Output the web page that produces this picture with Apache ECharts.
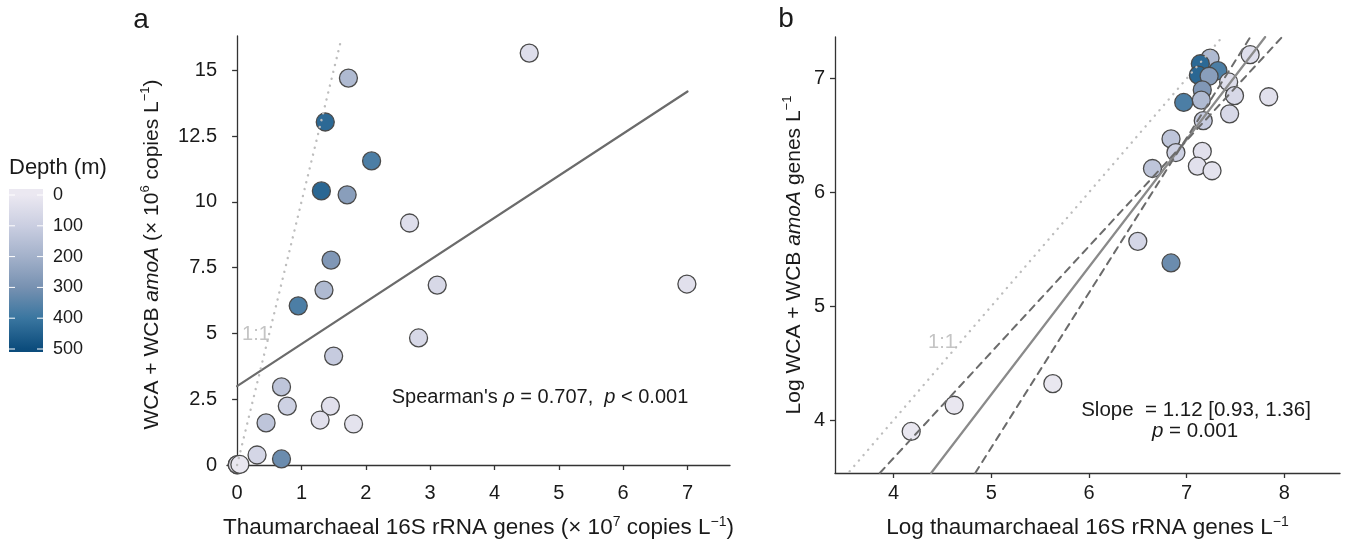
<!DOCTYPE html>
<html><head><meta charset="utf-8">
<script src="https://cdn.jsdelivr.net/npm/echarts@6/dist/echarts.min.js"></script>
<style>html,body{margin:0;padding:0;background:#fff}#c{width:1345px;height:545px}</style>
</head><body><div id="c"></div>
<script>
const FONT = '"Liberation Sans", Arial, Helvetica, sans-serif';

// Panel a: linear values (x: ×10^7 copies/L, y: ×10^6 copies/L)
const ampThaumX = [4.54,1.73,1.37,2.09,1.31,1.71,2.68,1.46,1.35,3.11,0.95,6.99,2.82,1.50,0.69,0.78,1.45,1.29,1.81,0.45,0.31,0.69,0.0015,0.004,0.043];
const ampAmoaY  = [15.66,14.71,13.04,11.56,10.42,10.27,9.20,7.79,6.65,6.84,6.05,6.88,4.83,4.14,2.97,2.24,2.24,1.71,1.56,1.60,0.38,0.23,0.008,0.013,0.021];
// Panel b: log10 values
const logThaumX = [7.65,7.24,7.14,7.32,7.12,7.23,7.43,7.16,7.15,7.49,6.97,7.84,7.44,7.17,6.84,6.89,7.16,7.11,7.26,6.65,6.50,6.84,4.18,4.62,5.63];
const logAmoaY  = [7.21,7.18,7.13,7.07,7.03,7.02,6.97,6.90,6.81,6.85,6.79,6.84,6.69,6.63,6.47,6.35,6.36,6.23,6.19,6.21,5.57,5.38,3.90,4.13,4.32];
// Depth (m) of each sample
const depthM    = [40,170,430,370,435,260,40,280,170,60,370,30,60,110,130,90,30,30,20,130,70,320,5,5,5];

// Fitted / reference lines (endpoints)
const aFitLine  = [[0, 3.0], [7, 14.2]];
const aOneLine  = [[0, 0], [1.61, 16.1]];
const bFitLine  = [[4.384, 3.535], [7.804, 7.365]];
const bLoCI     = [[3.859, 3.535], [7.977, 7.365]];
const bHiCI     = [[4.836, 3.535], [7.652, 7.365]];
const bOneLine  = [[3.55, 3.55], [7.35, 7.35]];

// Tick labels
const aXTicks = [0,1,2,3,4,5,6,7];
const aYTicks = [0,2.5,5,7.5,10,12.5,15];
const bXTicks = [4,5,6,7,8];
const bYTicks = [4,5,6,7];
const depthTicks = [0,100,200,300,400,500];
const depthColors = ['#ebe8f1','#cacee1','#a3b1ca','#7791b1','#3a76a0','#0c4c7c'];

const chart = echarts.init(document.getElementById('c'));

const axisLineStyle = {show:true, lineStyle:{color:'#333', width:1.3}};
const tickStyle = {show:true, length:5, lineStyle:{color:'#333', width:1.3}};
const labStyle = {color:'#1a1a1a', fontSize:20, fontFamily:FONT};
function mkRich(fs){
  return {
    a:{fontSize:fs, fontFamily:FONT, color:'#1a1a1a', lineHeight:26},
    i:{fontSize:fs, fontFamily:FONT, color:'#1a1a1a', fontStyle:'italic', lineHeight:26},
    s:{fontSize:Math.round(fs*0.62), fontFamily:FONT, color:'#1a1a1a', verticalAlign:'top', lineHeight:26, padding:[0,0,10,0]}
  };
}

function xAx(gi, min, max, ticks, name, gap){
  return {type:'value', gridIndex:gi, min, max,
    axisLine:axisLineStyle, axisTick:Object.assign({customValues:ticks}, tickStyle),
    axisLabel:Object.assign({customValues:ticks, margin:10}, labStyle),
    splitLine:{show:false}, name, nameLocation:'middle', nameGap:gap,
    nameTextStyle:{rich:mkRich(22.5)}};
}
function yAx(gi, min, max, ticks, name, gap){
  return {type:'value', gridIndex:gi, min, max,
    axisLine:axisLineStyle, axisTick:Object.assign({customValues:ticks}, tickStyle),
    axisLabel:Object.assign({customValues:ticks, margin:10}, labStyle),
    splitLine:{show:false}, name, nameLocation:'middle', nameGap:gap,
    nameTextStyle:{rich:mkRich(21)}};
}

const pointStyle = {borderColor:'#4a4a4a', borderWidth:1.3, opacity:1};
function lineSeries(xi, data, color, width, type){
  return {type:'line', xAxisIndex:xi, yAxisIndex:xi, data, symbol:'none', silent:true, z:4,
    clip:true, lineStyle:{color, width, type, cap:'round'}};
}

const legendGraphics = [];
const barTop = 189, barH = 163, y0 = 195, perUnit = 154/500;
legendGraphics.push({type:'text', left:9, top:157, style:{text:'Depth (m)', font:'22px '+FONT, fill:'#1a1a1a'}});
legendGraphics.push({type:'rect', shape:{x:9, y:barTop, width:34, height:barH},
  style:{fill:{type:'linear', x:0, y:0, x2:0, y2:1,
    colorStops: depthColors.map((c,i)=>({offset: (y0-barTop + i*100*perUnit)/barH, color:c}))}}});
depthTicks.forEach(v=>{
  const y = y0 + v*perUnit;
  legendGraphics.push({type:'line', shape:{x1:9,y1:y,x2:15,y2:y}, style:{stroke:'#fff', lineWidth:1}});
  legendGraphics.push({type:'line', shape:{x1:37,y1:y,x2:43,y2:y}, style:{stroke:'#fff', lineWidth:1}});
  legendGraphics.push({type:'text', x:53, y:y, style:{text:String(v), font:'18px '+FONT, fill:'#1a1a1a', verticalAlign:'middle'}});
});

const annot = [
  {type:'text', x:141, y:20, style:{text:'a', font:'28px '+FONT, fill:'#1a1a1a', align:'center', verticalAlign:'middle'}},
  {type:'text', x:786, y:19, style:{text:'b', font:'28px '+FONT, fill:'#1a1a1a', align:'center', verticalAlign:'middle'}},
  {type:'text', x:256, y:334, style:{text:'1:1', font:'20px '+FONT, fill:'#c4c4c4', align:'center', verticalAlign:'middle'}},
  {type:'text', x:942, y:342, style:{text:'1:1', font:'20px '+FONT, fill:'#c4c4c4', align:'center', verticalAlign:'middle'}},
  {type:'text', x:540, y:397, style:{text:"{a|Spearman's }{i|ρ}{a| = 0.707,  }{i|p}{a| < 0.001}", align:'center', verticalAlign:'middle',
    rich:{a:{font:'20px '+FONT, fill:'#1a1a1a'}, i:{font:'italic 20px '+FONT, fill:'#1a1a1a'}}}},
  {type:'text', x:1196, y:410, style:{text:'Slope  = 1.12 [0.93, 1.36]', font:'20.5px '+FONT, fill:'#1a1a1a', align:'center', verticalAlign:'middle'}},
  {type:'text', x:1195, y:431, style:{text:'{i|p}{a| = 0.001}', align:'center', verticalAlign:'middle',
    rich:{a:{font:'20.5px '+FONT, fill:'#1a1a1a'}, i:{font:'italic 20.5px '+FONT, fill:'#1a1a1a'}}}}
];

chart.setOption({
  animation:false,
  backgroundColor:'#fff',
  textStyle:{fontFamily:FONT},
  grid:[
    {left:227, top:36, width:503, height:437},
    {left:835, top:37, width:505, height:436}
  ],
  xAxis:[
    xAx(0, -0.157, 7.66, aXTicks, '{a|Thaumarchaeal 16S rRNA genes (× 10}{s|7}{a| copies L}{s|−1}{a|)}', 42),
    xAx(1, 3.40, 8.57, bXTicks, '{a|Log thaumarchaeal 16S rRNA genes L}{s|−1}', 42)
  ],
  yAxis:[
    yAx(0, -0.304, 16.31, aYTicks, '{a|WCA + WCB }{i|amoA}{a| (× 10}{s|6}{a| copies L}{s|−1}{a|)}', 62),
    yAx(1, 3.535, 7.365, bYTicks, '{a|Log WCA + WCB }{i|amoA}{a| genes L}{s|−1}', 28)
  ],
  visualMap:{show:false, type:'continuous', min:0, max:500, dimension:2, seriesIndex:[0,1],
    inRange:{color:depthColors}},
  series:[
    {type:'scatter', xAxisIndex:0, yAxisIndex:0, symbolSize:18, z:2, itemStyle:pointStyle,
      data: ampThaumX.map((x,i)=>[x, ampAmoaY[i], depthM[i]])},
    {type:'scatter', xAxisIndex:1, yAxisIndex:1, symbolSize:18, z:2, itemStyle:pointStyle,
      data: logThaumX.map((x,i)=>[x, logAmoaY[i], depthM[i]])},
    lineSeries(0, aFitLine, '#6b6b6b', 2.2, 'solid'),
    lineSeries(0, aOneLine, '#bdbdbd', 2.4, [0.1, 7]),
    lineSeries(1, bFitLine, '#8a8a8a', 2.2, 'solid'),
    lineSeries(1, bLoCI, '#6b6b6b', 2, [7, 6]),
    lineSeries(1, bHiCI, '#6b6b6b', 2, [7, 6]),
    lineSeries(1, bOneLine, '#bdbdbd', 2.4, [0.1, 7])
  ],
  graphic: legendGraphics.concat(annot)
});
</script></body></html>
